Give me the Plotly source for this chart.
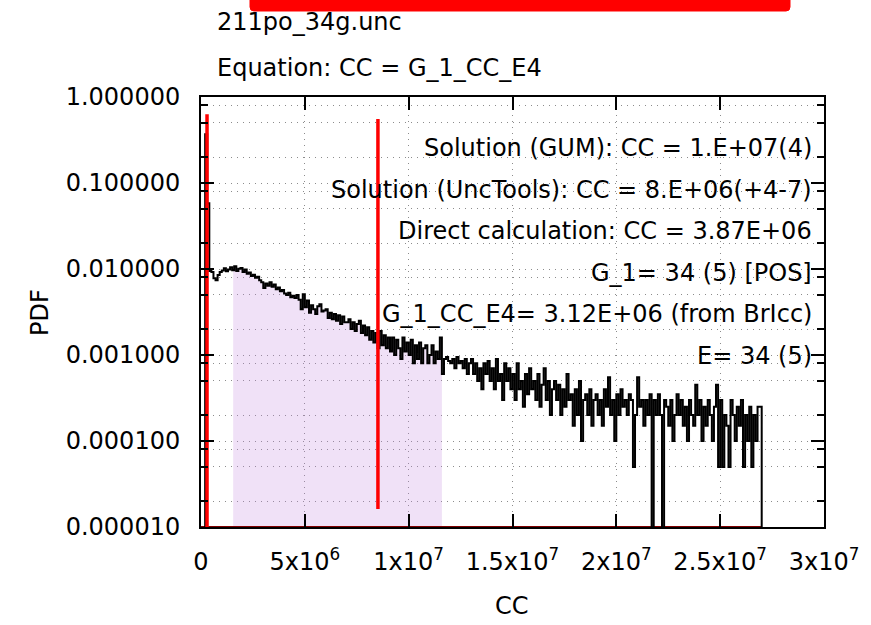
import numpy as np
import plotly.graph_objects as go

# ---------------- data ----------------
bin_width = 1.0e5  # CC bin width of the histogram
pdf_values = [
    0, 0, 0.37, 0.058, 0.0095, 0.0092, 0.0078, 0.0074, 0.0085, 0.0092,
    0.0096, 0.0102, 0.0094, 0.0099, 0.0105, 0.0097, 0.0108, 0.0095, 0.0101, 0.0103,
    0.0092, 0.0099, 0.0088, 0.0091, 0.0083, 0.0086, 0.0079, 0.0081, 0.0074, 0.0070,
    0.0060, 0.0068, 0.0064, 0.0070, 0.0062, 0.0066, 0.0058, 0.0061, 0.0055, 0.0057,
    0.0052, 0.0050, 0.0053, 0.0047, 0.0049, 0.0046, 0.0050, 0.0044, 0.0034, 0.0051,
    0.0036, 0.0043, 0.0031, 0.0038, 0.0034, 0.0030, 0.0037, 0.0039, 0.0032, 0.0033,
    0.0034, 0.0027, 0.0031, 0.0026, 0.0030, 0.0025, 0.0029, 0.0023, 0.0028, 0.0024,
    0.0024, 0.0026, 0.0020, 0.0024, 0.0019, 0.0023, 0.0025, 0.0018, 0.0022, 0.0017,
    0.0021, 0.0015, 0.0019, 0.0014, 0.0018, 0.0012, 0.0019, 0.0013, 0.0017, 0.0012,
    0.0016, 0.0011, 0.0016, 0.0010, 0.0015, 0.0012, 0.0009, 0.0016, 0.0011, 0.0014,
    0.0010, 0.0015, 0.0008, 0.0013, 0.0009, 0.0014, 0.0008, 0.0012, 0.0013, 0.0008,
    0.0010, 0.0013, 0.0008, 0.0011, 0.0009, 0.0016, 0.0006, 0.0009, 0.00095, 0.00085,
    0.0008, 0.0009, 0.0007, 0.00095, 0.0008, 0.00085, 0.0007, 0.0009, 0.0006, 0.0008,
    0.0009, 0.0006, 0.0008, 0.0005, 0.0007, 0.0004, 0.0008, 0.0006, 0.00085, 0.0005,
    0.0007, 0.0004, 0.0009, 0.0005, 0.0006, 0.0003, 0.0008, 0.0005, 0.0007, 0.0004,
    0.0006, 0.0003, 0.0008, 0.0004, 0.0005, 0.00025, 0.0006, 0.00035, 0.0007, 0.0004,
    0.0005, 0.0003, 0.0006, 0.00025, 0.00045, 0.0007, 0.0003, 0.0005, 0.0002, 0.0004,
    0.0005, 0.0003, 0.00045, 0.0002, 0.0004, 0.00025, 0.0006, 0.0003, 0.00035, 0.00015,
    0.0004, 0.0002, 0.0005, 0.0001, 0.0003, 0.00035, 0.0002, 0.0004, 0.00015, 0.0003,
    0.00035, 0.0002, 0.0003, 0.00015, 0.0004, 0.00025, 0.00055, 0.0002, 0.0003, 0.0001,
    0.00035, 0.0002, 0.0004, 0.00025, 0.0003, 0.0002, 0.00035, 0.0003, 0.00005, 0.0002,
    0.00055, 0.00025, 0.0003, 0.00015, 0.0003, 0.0002, 0.00035, 0, 0.0003, 0.0002,
    0.00035, 0.0002, 0, 0.0003, 0.00025, 0.00015, 0.0003, 0.0001, 0.0002, 0.00035,
    0.0002, 0.0003, 0.00015, 0.00025, 0.0001, 0.0003, 0.0002, 0.00015, 0.00045, 0.0002,
    0.0003, 0.0001, 0.00025, 0.00015, 0.0003, 0.0002, 0.0001, 0.00025, 0.00045, 0.00005,
    0.0003, 0.00005, 0.0002, 0.00015, 0.00005, 0.0003, 0.0002, 0.0001, 0.00025, 0.00015,
    0.0003, 0.00005, 0.0002, 0.0001, 0.00025, 0.00005, 0.0002, 0.0001, 0.00025, 0.00025,
]

interval_low, interval_high = 1.55e6, 1.16e7        # shaded coverage interval
red_lines_x = [2.9e5, 8.52e6]                        # vertical markers
red_lines_top = [0.63, 0.555]
red_lines_bottom = [1e-7, 1.62e-5]

x_tickvals = [0, 5e6, 1e7, 1.5e7, 2e7, 2.5e7, 3e7]
x_ticktext = ["0", "5x10<sup>6</sup>", "1x10<sup>7</sup>", "1.5x10<sup>7</sup>",
              "2x10<sup>7</sup>", "2.5x10<sup>7</sup>", "3x10<sup>7</sup>"]
y_tickvals = [1e-5, 1e-4, 1e-3, 1e-2, 1e-1, 1]
y_ticktext = ["0.000010", "0.000100", "0.001000", "0.010000", "0.100000", "1.000000"]
y_minorvals = [m * 10.0 ** k for k in range(-5, 0) for m in (2, 5, 8)]

title_lines = ["211po_34g.unc", "Equation: CC = G_1_CC_E4"]
info_lines = [
    "Solution (GUM): CC = 1.E+07(4)",
    "Solution (UncTools): CC = 8.E+06(+4-7)",
    "Direct calculation: CC = 3.87E+06",
    "G_1= 34 (5) [POS]",
    "G_1_CC_E4= 3.12E+06 (from BrIcc)",
    "E= 34 (5)",
]

# ---------------- build ----------------
FLOOR = 1e-9  # empty bins drawn below the log axis
pdf = np.array(pdf_values, dtype=float)
edges = np.arange(len(pdf) + 1) * bin_width
pdf_plot = np.where(pdf > 0, pdf, FLOOR)

hx = list(edges[:-1]) + [edges[-1], edges[-1]]
hy = list(pdf_plot) + [pdf_plot[-1], FLOOR]

def val_at(x):
    i = min(int(x // bin_width), len(pdf_plot) - 1)
    return pdf_plot[i]

inner = [e for e in edges if interval_low < e < interval_high]
fx = [interval_low] + inner + [interval_high, interval_high, interval_low]
fy = [val_at(interval_low)] + [val_at(e) for e in inner] + [val_at(interval_high - 1), FLOOR, FLOOR]

FONT = "DejaVu Sans"
FS = 24

fig = go.Figure()
fig.add_trace(go.Scatter(x=fx, y=fy, mode="lines", line=dict(width=0, shape="hv"),
                         fill="toself", fillcolor="rgba(195,135,225,0.25)",
                         hoverinfo="skip", showlegend=False))
fig.add_trace(go.Scatter(x=[0, edges[-1]], y=[1e-5, 1e-5], mode="lines",
                         line=dict(color="#800000", width=2), showlegend=False))
fig.add_trace(go.Scatter(x=hx, y=hy, mode="lines",
                         line=dict(color="black", width=2, shape="hv"),
                         showlegend=False))
for xv, top, bot in zip(red_lines_x, red_lines_top, red_lines_bottom):
    fig.add_trace(go.Scatter(x=[xv, xv], y=[bot, top], mode="lines",
                             line=dict(color="#ff0000", width=3.5), showlegend=False))

# plot area in pixels: x 201..824, y 97..527
L, R, T, B = 201, 824, 97, 527
W, H = 871, 625

def px(xp):
    return (xp - L) / (R - L)

def py(yp):
    return (B - yp) / (B - T)

grid = dict(gridcolor="#8c8c8c", griddash="1px,5px", gridwidth=1)

fig.update_layout(
    width=W, height=H,
    margin=dict(l=L, r=W - R, t=T, b=H - B),
    paper_bgcolor="white", plot_bgcolor="white",
    font=dict(family=FONT, size=FS, color="black"),
    showlegend=False,
    xaxis=dict(range=[0, 3e7], tickmode="array", tickvals=x_tickvals, ticktext=x_ticktext,
               ticks="inside", ticklen=13, tickwidth=1.5, tickcolor="black",
               showline=True, linecolor="black", linewidth=2, mirror="ticks",
               showgrid=True, zeroline=False, ticklabelstandoff=12,
               tickfont=dict(family=FONT, size=FS), **grid),
    yaxis=dict(type="log", range=[-5, 0], tickmode="array", tickvals=y_tickvals,
               ticktext=y_ticktext, ticks="inside", ticklen=13, tickwidth=1.5,
               tickcolor="black", showline=True, linecolor="black", linewidth=2,
               mirror="ticks", showgrid=True, zeroline=False, ticklabelstandoff=14,
               tickfont=dict(family=FONT, size=FS),
               minor=dict(tickmode="array", tickvals=y_minorvals, ticks="inside",
                          ticklen=7, tickwidth=1.5, tickcolor="black", showgrid=True,
                          **grid),
               **grid),
)

ann = []
for txt, yp in zip(title_lines, [22, 68]):
    ann.append(dict(text=txt, x=px(215), y=py(yp), xref="paper", yref="paper",
                    xanchor="left", yanchor="middle", showarrow=False,
                    font=dict(family=FONT, size=FS)))
for i, txt in enumerate(info_lines):
    yp = 148 + i * 41.5
    ann.append(dict(text=txt, x=px(814), y=py(yp), xref="paper", yref="paper",
                    xanchor="right", yanchor="middle", showarrow=False,
                    font=dict(family=FONT, size=FS)))
ann.append(dict(text="PDF", x=px(40), y=py(313), xref="paper", yref="paper",
                textangle=-90, xanchor="center", yanchor="middle", showarrow=False,
                font=dict(family=FONT, size=FS)))
ann.append(dict(text="CC", x=px(512), y=py(606), xref="paper", yref="paper",
                xanchor="center", yanchor="middle", showarrow=False,
                font=dict(family=FONT, size=FS)))
fig.update_layout(annotations=ann)

# red banner partly cut off at the top of the page
x0, x1 = px(250), px(790)
yb, ytop = py(11), py(-20)
r = 4 / (R - L)
ry = 4 / (B - T)
path = (f"M {x0} {ytop} L {x0} {yb + ry} Q {x0} {yb} {x0 + r} {yb} "
        f"L {x1 - r} {yb} Q {x1} {yb} {x1} {yb + ry} L {x1} {ytop} Z")
fig.add_shape(type="path", path=path, xref="paper", yref="paper",
              fillcolor="#ff0000", line=dict(color="#ff0000", width=1))

fig.write_html("out.html", config={"displayModeBar": False},
               post_script="document.body.style.margin='0';document.body.style.padding='0';")
